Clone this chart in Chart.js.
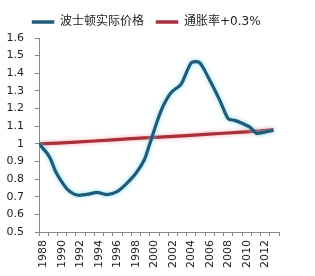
<!DOCTYPE html>
<html><head><meta charset="utf-8">
<script src="https://cdn.jsdelivr.net/npm/chart.js@4.4.1/dist/chart.umd.min.js"></script>
<style>html,body{margin:0;padding:0;background:#fff}#w{width:315px;height:276px}</style>
</head><body><div id="w"><canvas id="c"></canvas></div>
<script>
const seriesNames = ['波士顿实际价格', '通胀率+0.3%'];
const priceYears = [1988.0,1988.5,1988.9,1989.3,1989.8,1990.4,1991.1,1991.8,1992.4,1993.4,1994.3,1995.4,1996.5,1997.4,1998.5,1999.4,2000.0,2000.9,2001.5,2002.3,2003.4,2004.5,2005.4,2006.5,2007.6,2008.5,2009.2,2010.1,2010.8,2011.4,2011.6,2013.4];
const priceValues = [1.00,0.97,0.945,0.908,0.843,0.79,0.74,0.715,0.708,0.715,0.725,0.712,0.73,0.77,0.833,0.908,1.0,1.142,1.22,1.29,1.339,1.46,1.46,1.36,1.245,1.142,1.133,1.114,1.096,1.067,1.058,1.077];
const inflYears = [1988,1990,1992,1994,1996,1998,2000,2002,2004,2006,2008,2010,2012,2013.4];
const inflValues = [1.000,1.004,1.010,1.016,1.022,1.029,1.035,1.041,1.047,1.053,1.060,1.066,1.073,1.080];
const yTicks = [0.5,0.6,0.7,0.8,0.9,1,1.1,1.2,1.3,1.4,1.5,1.6];
const xLabelYears = [1988,1990,1992,1994,1996,1998,2000,2002,2004,2006,2008,2010,2012];

const FONT = "'DejaVu Sans','Noto Sans CJK SC',sans-serif";
const glow = {
  id: 'glow',
  afterLayout(chart) { chart.legend.left += 16; chart.legend.right += 16; },
  beforeDatasetDraw(chart, args) {
    const ctx = chart.ctx; ctx.save();
    ctx.shadowColor = args.index === 0 ? 'rgba(120,220,240,0.9)' : 'rgba(240,140,150,0.8)';
    ctx.shadowBlur = 4;
  },
  afterDatasetDraw(chart) { chart.ctx.restore(); }
};
new Chart(document.getElementById('c'), {
  type: 'line',
  data: {
    datasets: [
      { label: seriesNames[0], data: priceYears.map((x,i)=>({x, y: priceValues[i]})),
        borderColor: '#1f5b7a', backgroundColor: '#1f5b7a', borderWidth: 3.2, pointRadius: 0, tension: 0.25 },
      { label: seriesNames[1], data: inflYears.map((x,i)=>({x, y: inflValues[i]})),
        borderColor: '#a7303a', backgroundColor: '#a7303a', borderWidth: 3.2, pointRadius: 0, tension: 0 }
    ]
  },
  options: {
    responsive: true, maintainAspectRatio: false, animation: false,
    layout: { padding: { left: 4, right: 36, top: 4, bottom: 0 } },
    plugins: {
      tooltip: { enabled: false },
      legend: {
        position: 'top', align: 'start',
        labels: { boxWidth: 22, boxHeight: 3, padding: 12, color: '#222',
          font: { family: FONT, size: 12 },
          generateLabels: chart => Chart.defaults.plugins.legend.labels.generateLabels(chart)
            .map(l => Object.assign(l, { lineWidth: 0.5 })) }
      }
    },
    scales: {
      x: {
        type: 'linear', min: 1988, max: 2014,
        afterFit: s => { s.height = 44; },
        afterBuildTicks: s => { const t=[]; for (let y=1988;y<=2014;y++) t.push({value:y}); s.ticks = t; },
        grid: { drawOnChartArea: false, tickLength: 4, color: '#888' },
        border: { color: '#888' },
        ticks: { autoSkip: false, minRotation: 90, maxRotation: 90, padding: 4, labelOffset: 4.6,
          color: '#222', font: { family: FONT, size: 11 },
          callback: v => xLabelYears.includes(v) ? String(v) : '' }
      },
      y: {
        min: 0.5, max: 1.6,
        afterFit: s => { s.width = 35; },
        afterBuildTicks: s => { s.ticks = yTicks.map(v => ({value: v})); },
        grid: { drawOnChartArea: false, tickLength: 4, color: '#888' },
        border: { color: '#888' },
        ticks: { padding: 11, color: '#222', font: { family: FONT, size: 11 },
          callback: v => String(v) }
      }
    }
  },
  plugins: [glow]
});
</script></body></html>
